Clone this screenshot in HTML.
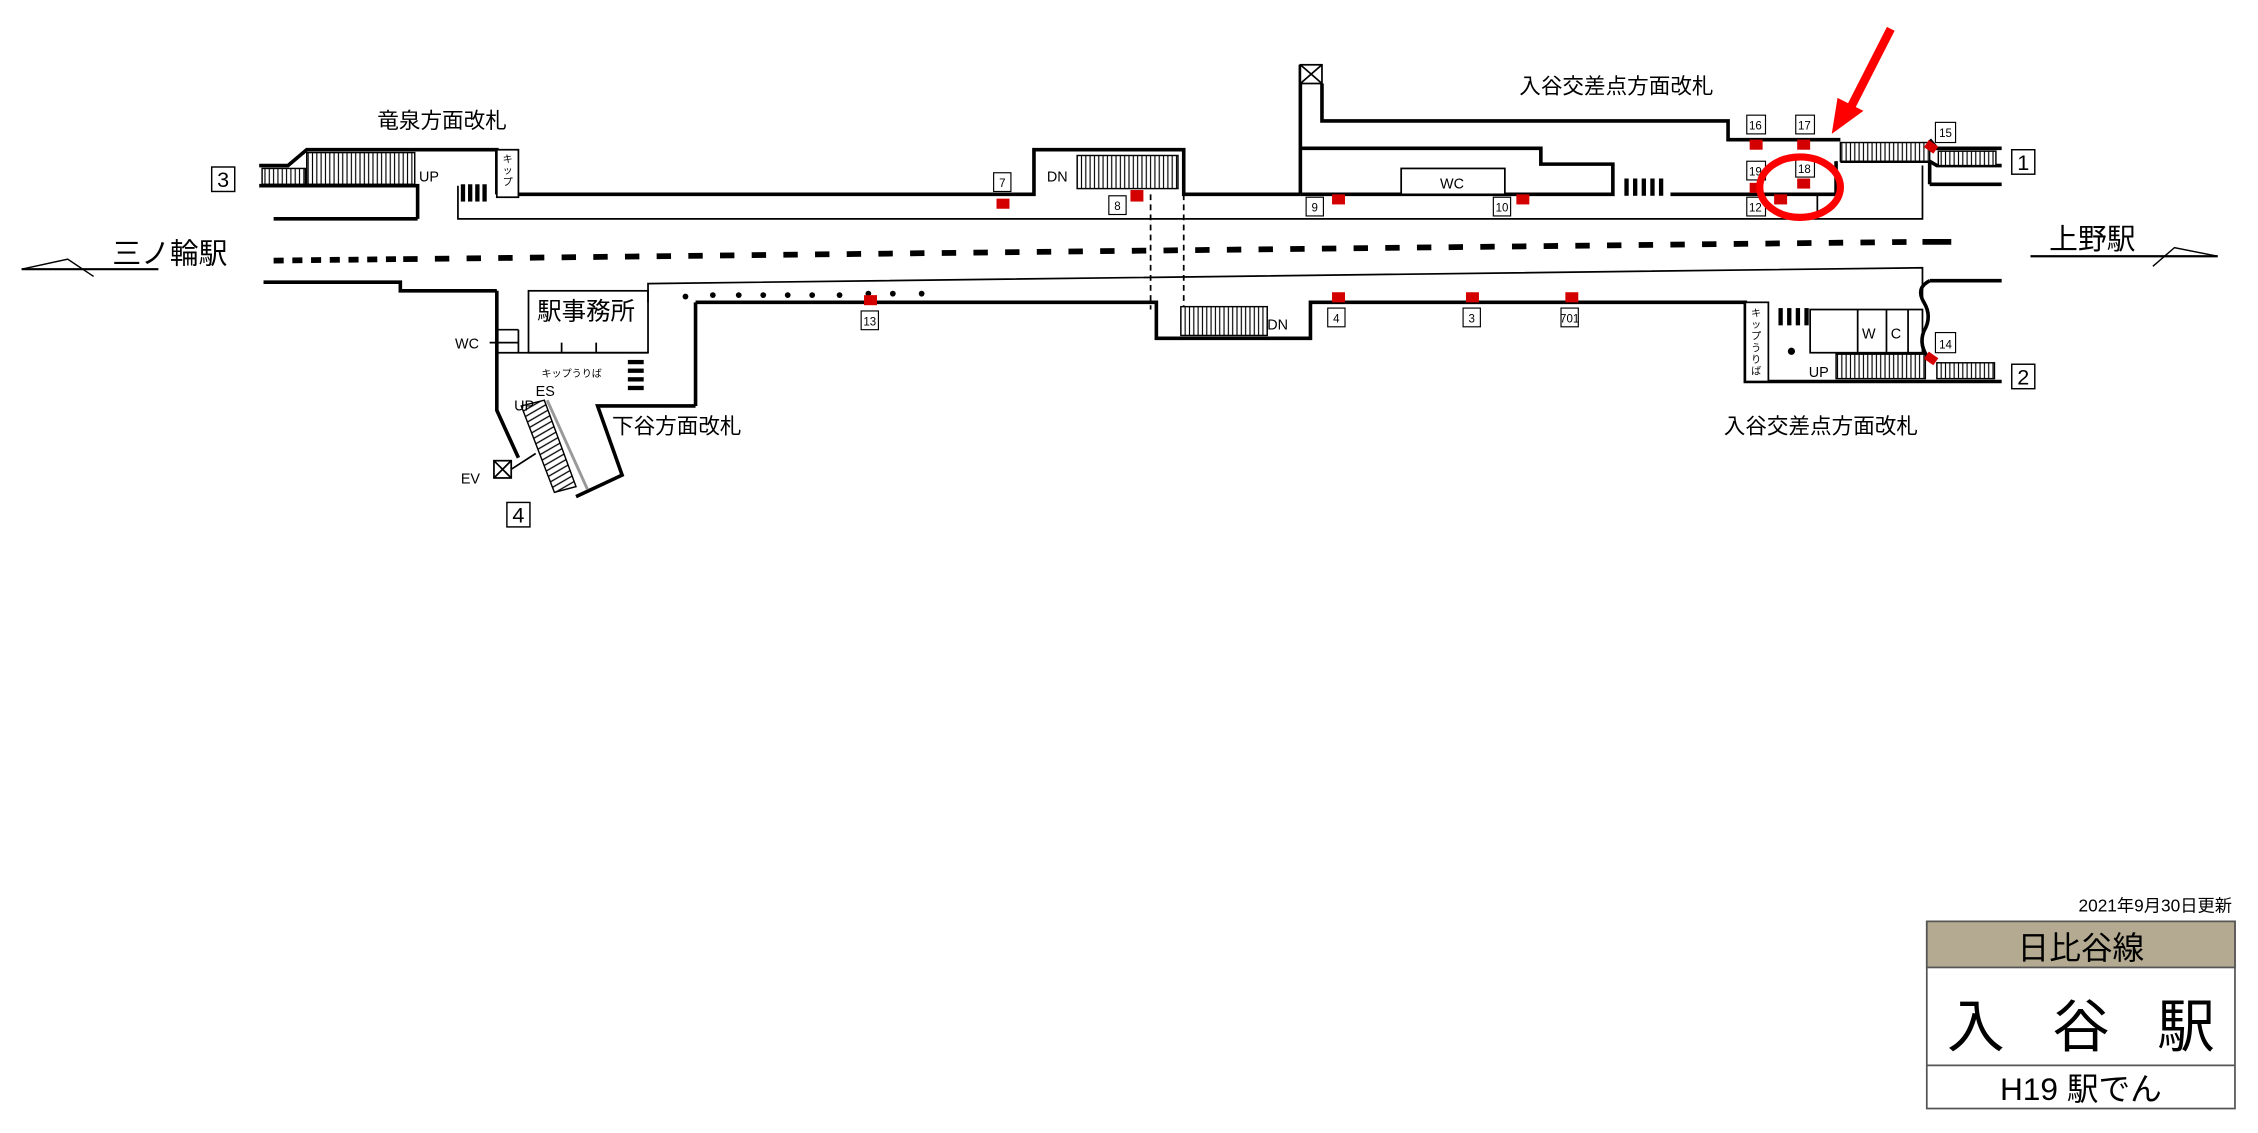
<!DOCTYPE html>
<html><head><meta charset="utf-8"><style>
html,body{margin:0;padding:0;background:#fff;}
svg{display:block;}
text{font-family:"Liberation Sans","Noto Sans CJK JP",sans-serif;fill:#000;}
</style></head><body>
<svg width="2258" height="1133" viewBox="0 0 1568 787" preserveAspectRatio="none" xmlns="http://www.w3.org/2000/svg">
<defs>
<pattern id="h" width="3" height="10" patternUnits="userSpaceOnUse"><rect width="3" height="10" fill="#fff"/><line x1="1" y1="0" x2="1" y2="10" stroke="#000" stroke-width="0.8"/></pattern>
<pattern id="hd" width="4" height="4" patternUnits="userSpaceOnUse" patternTransform="rotate(-30)"><rect width="4" height="4" fill="#fff"/><line x1="0" y1="1" x2="4" y2="1" stroke="#000" stroke-width="0.9"/></pattern>
</defs>
<g fill="none" stroke="#000" stroke-width="2.5">
<polyline points="180,115 200,115 213,104 345,104 345,135"/>
<polyline points="180,129 290,129 290,152"/>
<line x1="190" y1="152" x2="290" y2="152"/>
<polyline points="360,135 718,135 718,104 822,104 822,135 903,135"/>
<polyline points="903,135 1120,135 1120,114 1070,114 1070,103 903,103"/>
<polyline points="903,45 903,135"/>
<polyline points="918,58 918,84 1200,84 1200,97 1278,97"/>
<polyline points="1160,135 1275,135 1275,112"/>
<line x1="1340" y1="112" x2="1340" y2="128"/>
<line x1="1340" y1="128" x2="1390" y2="128"/>
<polyline points="1278,112 1340,112 1345,115 1390,115"/>
<polyline points="1340,97 1345,103 1390,103"/>
<polyline points="183,196 278,196 278,202 345,202"/>
<polyline points="483,210 803,210 803,235 910,235 910,210 1212,210 1212,265 1390,265"/>
<line x1="483" y1="210" x2="483" y2="282"/>
<polyline points="483,282 415,282 432,330 400,345"/>
<polyline points="345,202 345,285 360,318"/>
<polyline points="1340,195 1390,195"/>
<path d="M1340,195 Q1330,200 1336,210 Q1342,220 1336,230 Q1332,240 1340,250"/>
</g>
<g fill="none" stroke="#000" stroke-width="1.2">
<polyline points="318,129 318,152 1335,152 1335,115"/>
<line x1="1262" y1="135" x2="1262" y2="152"/>
<line x1="1275" y1="112" x2="1275" y2="135"/>
<polyline points="450,210 450,197 1335,186 1335,210"/>
<rect x="345" y="104" width="15" height="33" fill="#fff"/>
<rect x="973" y="117" width="72" height="18" fill="#fff"/>
<rect x="903" y="45" width="15" height="13" fill="#fff"/>
<line x1="903" y1="45" x2="918" y2="58"/><line x1="918" y1="45" x2="903" y2="58"/>
<rect x="367" y="202" width="83" height="43"/>
<polyline points="345,245 450,245"/>
<line x1="345" y1="229" x2="360" y2="229"/><line x1="360" y1="229" x2="360" y2="245"/>
<line x1="390" y1="238" x2="390" y2="245"/><line x1="414" y1="238" x2="414" y2="245"/>
<line x1="340" y1="238" x2="360" y2="238"/>
<rect x="1212" y="210" width="16" height="55" fill="#fff"/>
<rect x="1257" y="215" width="78" height="30"/>
<line x1="1290" y1="215" x2="1290" y2="245"/><line x1="1310" y1="215" x2="1310" y2="245"/><line x1="1325" y1="215" x2="1325" y2="245"/>
<line x1="799" y1="135" x2="799" y2="215" stroke-dasharray="4,3"/>
<line x1="822" y1="135" x2="822" y2="215" stroke-dasharray="4,3"/>
<rect x="343" y="320" width="12" height="12"/>
<line x1="343" y1="320" x2="355" y2="332"/><line x1="355" y1="320" x2="343" y2="332"/>
<line x1="355" y1="326" x2="372" y2="315"/>
</g>
<rect x="182" y="117" width="30" height="11" fill="url(#h)" stroke="#000"/>
<rect x="213" y="106" width="75" height="22" fill="url(#h)" stroke="#000"/>
<rect x="748" y="108" width="70" height="23" fill="url(#h)" stroke="#000"/>
<rect x="820" y="213" width="60" height="20" fill="url(#h)" stroke="#000"/>
<rect x="1278" y="99" width="62" height="13" fill="url(#h)" stroke="#000"/>
<rect x="1346" y="105" width="40" height="10" fill="url(#h)" stroke="#000"/>
<rect x="1275" y="246" width="62" height="17" fill="url(#h)" stroke="#000"/>
<rect x="1345" y="252" width="40" height="11" fill="url(#h)" stroke="#000"/>
<polygon points="362,282 378,278 400,338 385,342" fill="url(#hd)" stroke="#000"/>
<line x1="380" y1="278" x2="408" y2="340" stroke="#999" stroke-width="2"/>
<g fill="#000">
<rect x="320" y="128" width="3" height="12"/><rect x="325" y="128" width="3" height="12"/><rect x="330" y="128" width="3" height="12"/><rect x="335" y="128" width="3" height="12"/>
<rect x="1128" y="124" width="3" height="12"/><rect x="1134" y="124" width="3" height="12"/><rect x="1140" y="124" width="3" height="12"/><rect x="1146" y="124" width="3" height="12"/><rect x="1152" y="124" width="3" height="12"/>
<rect x="1235" y="214" width="3" height="12"/><rect x="1241" y="214" width="3" height="12"/><rect x="1247" y="214" width="3" height="12"/><rect x="1253" y="214" width="3" height="12"/>
<rect x="436" y="250" width="11" height="3"/><rect x="436" y="256" width="11" height="3"/><rect x="436" y="262" width="11" height="3"/><rect x="436" y="268" width="11" height="3"/>
<circle cx="476" cy="206" r="2"/><circle cx="495" cy="205" r="2"/><circle cx="513" cy="205" r="2"/><circle cx="530" cy="205" r="2"/><circle cx="547" cy="205" r="2"/><circle cx="564" cy="205" r="2"/><circle cx="583" cy="205" r="2"/><circle cx="603" cy="204" r="2"/><circle cx="620" cy="204" r="2"/><circle cx="640" cy="204" r="2"/>
<circle cx="1244" cy="244" r="2.5"/>
</g>
<line x1="190" y1="181" x2="275" y2="180" stroke="#000" stroke-width="4" stroke-dasharray="7,6"/>
<line x1="280" y1="180" x2="1330" y2="168" stroke="#000" stroke-width="4" stroke-dasharray="10,12"/>
<line x1="1335" y1="168" x2="1355" y2="168" stroke="#000" stroke-width="4"/>
<polyline points="15,187 110,187" stroke="#000" stroke-width="1.5" fill="none"/>
<polyline points="15,187 47,180 65,192" stroke="#000" stroke-width="1" fill="none"/>
<polyline points="1410,178 1540,178" stroke="#000" stroke-width="1.5" fill="none"/>
<polyline points="1540,178 1510,172 1495,185" stroke="#000" stroke-width="1" fill="none"/>
<g fill="#d40000">
<rect x="692" y="138" width="9" height="7"/><rect x="785" y="132" width="9" height="8"/>
<rect x="925" y="135" width="9" height="7"/><rect x="1053" y="135" width="9" height="7"/>
<rect x="600" y="205" width="9" height="7"/><rect x="925" y="203" width="9" height="7"/><rect x="1018" y="203" width="9" height="7"/><rect x="1087" y="203" width="9" height="7"/>
<rect x="1215" y="97" width="9" height="7"/><rect x="1248" y="97" width="9" height="7"/>
<rect x="1215" y="127" width="9" height="7"/><rect x="1248" y="124" width="9" height="7"/><rect x="1232" y="135" width="9" height="7"/>
<rect x="1337" y="99" width="8" height="6" transform="rotate(35 1341 102)"/><rect x="1337" y="246" width="8" height="6" transform="rotate(35 1341 249)"/>
</g>
<g font-size="8" text-anchor="middle">
<g fill="#fff" stroke="#000" stroke-width="0.8">
<rect x="690" y="120" width="12" height="13"/><rect x="770" y="136" width="12" height="13"/><rect x="907" y="137" width="12" height="13"/><rect x="1037" y="137" width="12" height="13"/>
<rect x="598" y="216" width="12" height="13"/><rect x="922" y="214" width="12" height="13"/><rect x="1016" y="214" width="12" height="13"/><rect x="1084" y="214" width="12" height="13"/>
<rect x="1213" y="80" width="13" height="13"/><rect x="1247" y="80" width="13" height="13"/><rect x="1213" y="112" width="13" height="13"/><rect x="1247" y="110" width="13" height="13"/><rect x="1213" y="137" width="13" height="13"/>
<rect x="1344" y="85" width="14" height="14"/><rect x="1344" y="231" width="14" height="14"/>
</g>
<text x="696" y="130">7</text><text x="776" y="146">8</text><text x="913" y="147">9</text><text x="1043" y="147">10</text>
<text x="604" y="226">13</text><text x="928" y="224">4</text><text x="1022" y="224">3</text><text x="1090" y="224">701</text>
<text x="1219" y="90">16</text><text x="1253" y="90">17</text><text x="1219" y="122">19</text><text x="1253" y="120">18</text><text x="1219" y="147">12</text>
<text x="1351" y="95">15</text><text x="1351" y="242">14</text>
</g>
<g fill="#fff" stroke="#000" stroke-width="1">
<rect x="147" y="116" width="16" height="17"/><rect x="1397" y="104" width="16" height="17"/><rect x="1397" y="253" width="16" height="17"/><rect x="352" y="349" width="16" height="17"/>
</g>
<g font-size="15" text-anchor="middle"><text x="155" y="130">3</text><text x="1405" y="118">1</text><text x="1405" y="267">2</text><text x="360" y="363">4</text></g>
<g font-size="10">
<text x="291" y="126">UP</text><text x="727" y="126">DN</text><text x="880" y="229">DN</text><text x="1256" y="262">UP</text>
<text x="316" y="242">WC</text><text x="357" y="285">UP</text><text x="372" y="275">ES</text><text x="320" y="336">EV</text>
<text x="1000" y="131">WC</text><text x="1293" y="235">W</text><text x="1313" y="235">C</text>
<text x="376" y="262" font-size="7">キップうりば</text>
</g>
<g font-size="7"><text x="349" y="113">キ</text><text x="349" y="121">ッ</text><text x="349" y="129">プ</text>
<text x="1216" y="220">キ</text><text x="1216" y="228">ッ</text><text x="1216" y="236">プ</text><text x="1216" y="244">う</text><text x="1216" y="252">り</text><text x="1216" y="260">ば</text></g>
<g font-size="15">
<text x="262" y="89">竜泉方面改札</text>
<text x="1055" y="65">入谷交差点方面改札</text>
<text x="1197" y="301">入谷交差点方面改札</text>
<text x="425" y="301">下谷方面改札</text>
</g>
<text x="373" y="222" font-size="17">駅事務所</text>
<text x="78" y="183" font-size="20">三ノ輪駅</text>
<text x="1423" y="173" font-size="20">上野駅</text>
<ellipse cx="1250" cy="130" rx="28" ry="21" fill="none" stroke="#f00" stroke-width="5"/>
<line x1="1313" y1="20" x2="1285" y2="75" stroke="#f00" stroke-width="6"/>
<polygon points="1272,93 1276,68 1294,77" fill="#f00"/>
<text x="1550" y="633" font-size="12" text-anchor="end">2021年9月30日更新</text>
<rect x="1338" y="640" width="214" height="130" fill="#fff" stroke="#555" stroke-width="1.2"/>
<rect x="1338" y="640" width="214" height="32" fill="#b3aa91" stroke="#555" stroke-width="1.2"/>
<line x1="1338" y1="740" x2="1552" y2="740" stroke="#555" stroke-width="1.2"/>
<text x="1445" y="666" font-size="22" text-anchor="middle">日比谷線</text>
<g font-size="40" text-anchor="middle"><text x="1372" y="727">入</text><text x="1445" y="727">谷</text><text x="1518" y="727">駅</text></g>
<text x="1445" y="764" font-size="22" text-anchor="middle">H19 駅でん</text>
</svg>
</body></html>
